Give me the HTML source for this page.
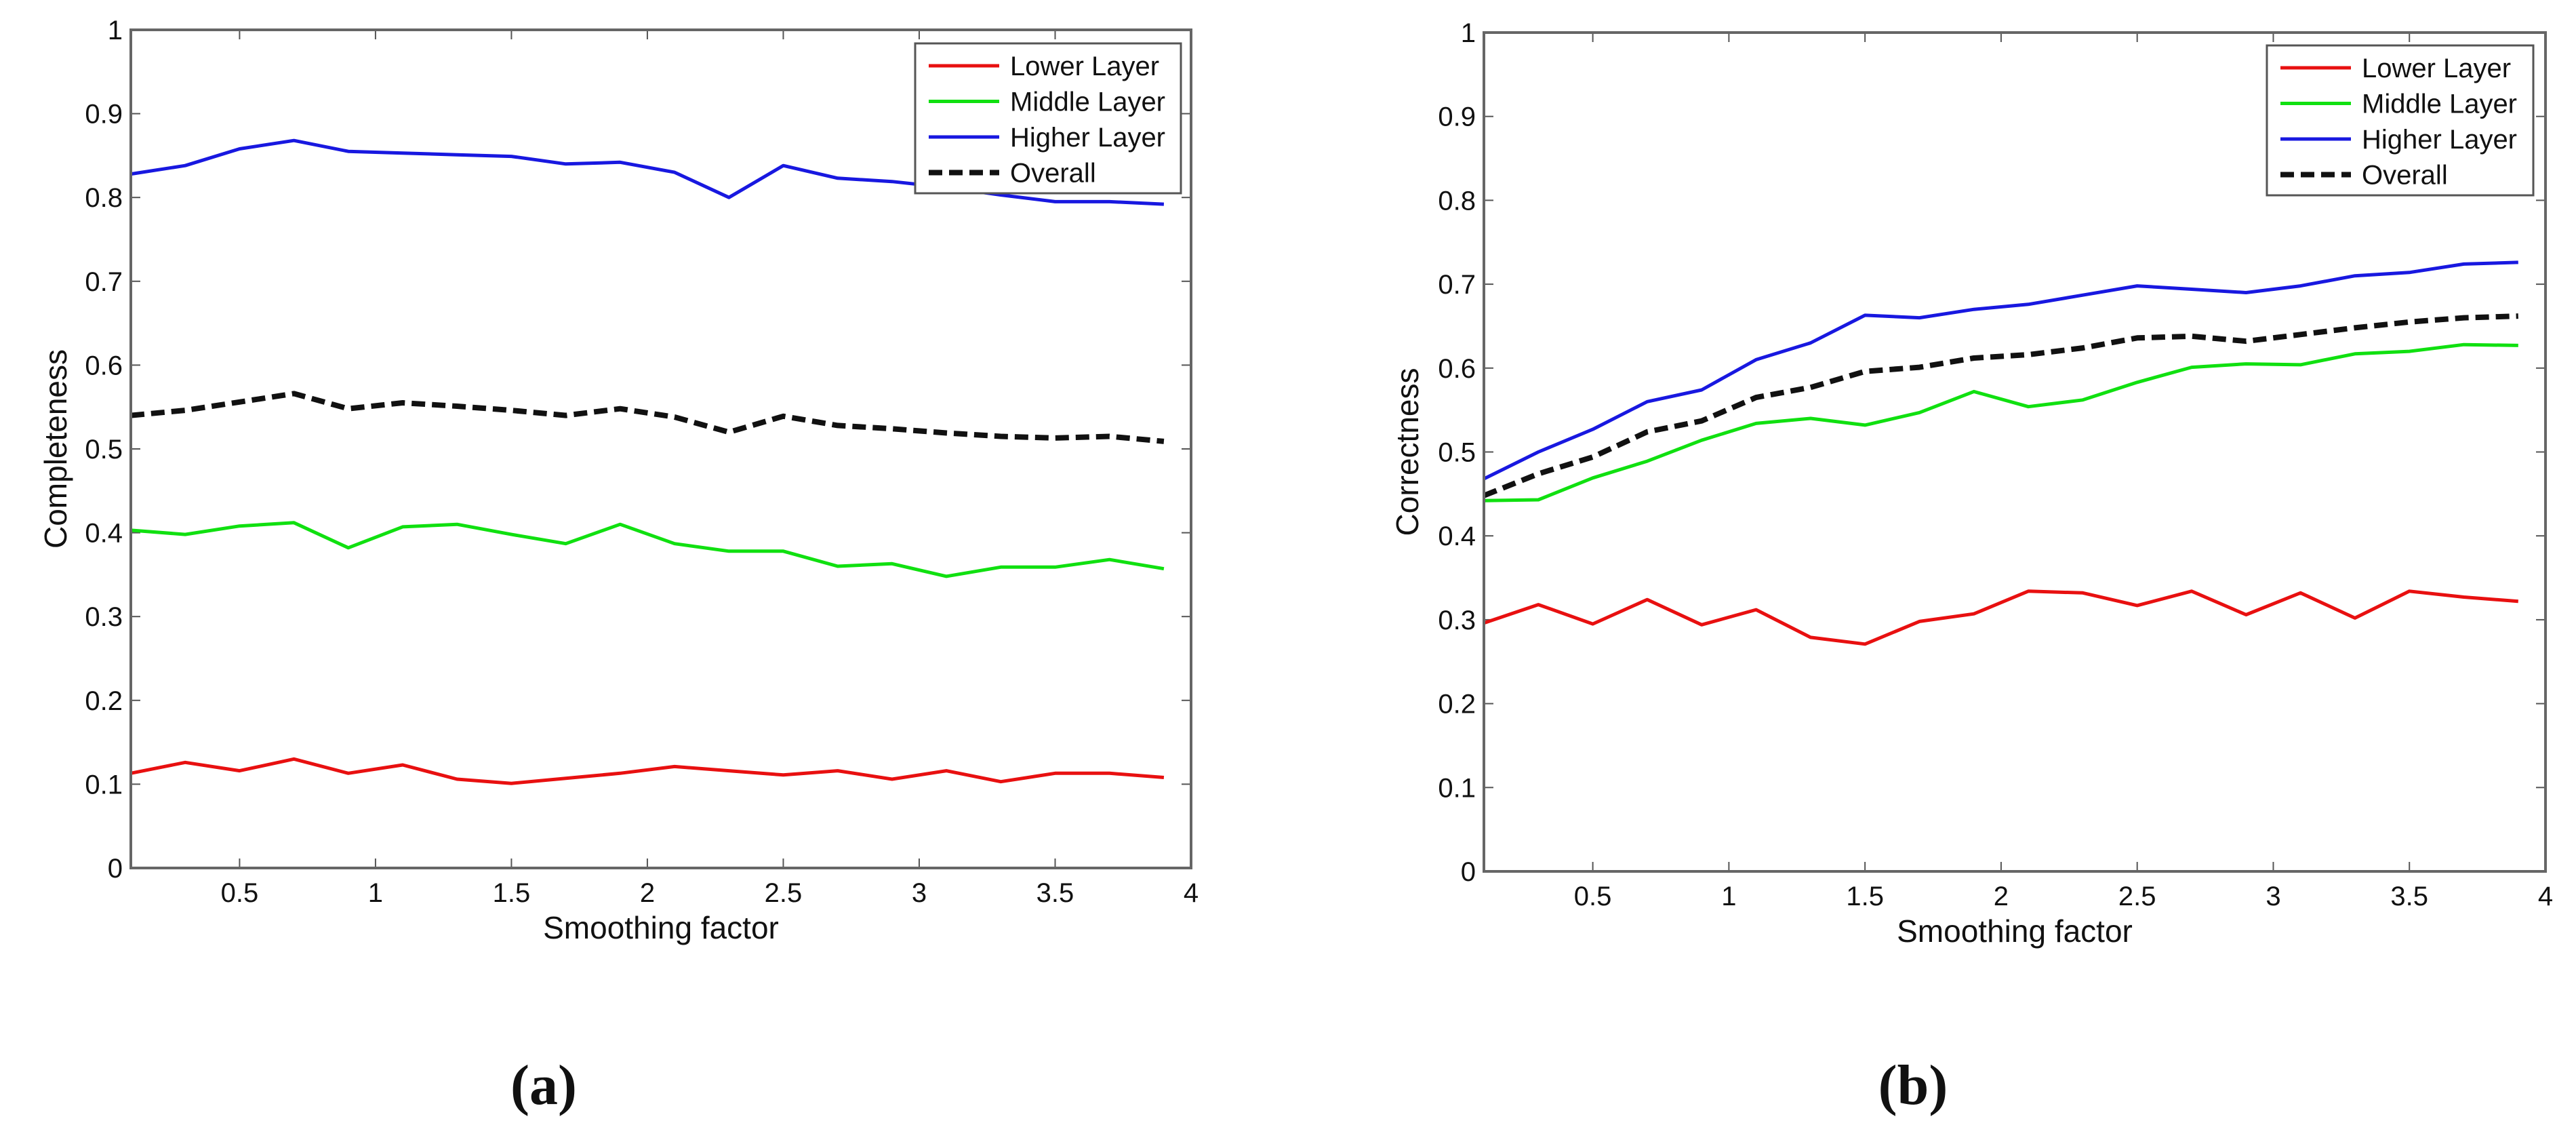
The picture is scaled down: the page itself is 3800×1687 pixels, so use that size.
<!DOCTYPE html>
<html><head><meta charset="utf-8"><style>
html,body{margin:0;padding:0;background:#fff;}
svg{display:block;}
text{font-family:"Liberation Sans",Arial,sans-serif;fill:#111;}
</style></head>
<body>
<svg id="fig" width="3800" height="1687" viewBox="0 0 3800 1687" xmlns="http://www.w3.org/2000/svg">
<text x="802" y="1628" font-size="84" font-weight="bold" text-anchor="middle" style="font-family:'Liberation Serif',serif">(<tspan>a</tspan>)</text>
<text x="2822" y="1628" font-size="84" font-weight="bold" text-anchor="middle" style="font-family:'Liberation Serif',serif">(b)</text>
</svg>
<script>
const xValues = [0.1,0.3,0.5,0.7,0.9,1.1,1.3,1.5,1.7,1.9,2.1,2.3,2.5,2.7,2.9,3.1,3.3,3.5,3.7,3.9];
const xTicks = [0.5,1,1.5,2,2.5,3,3.5,4];
const xTickLabels = ["0.5","1","1.5","2","2.5","3","3.5","4"];
const yTicks = [0,0.1,0.2,0.3,0.4,0.5,0.6,0.7,0.8,0.9,1];
const yTickLabels = ["0","0.1","0.2","0.3","0.4","0.5","0.6","0.7","0.8","0.9","1"];
const seriesNames = ["Lower Layer","Middle Layer","Higher Layer","Overall"];
const compLower = [0.113,0.126,0.116,0.130,0.113,0.123,0.106,0.101,0.107,0.113,0.121,0.116,0.111,0.116,0.106,0.116,0.103,0.113,0.113,0.108];
const compMiddle = [0.403,0.398,0.408,0.412,0.382,0.407,0.410,0.398,0.387,0.410,0.387,0.378,0.378,0.360,0.363,0.348,0.359,0.359,0.368,0.357];
const compHigher = [0.828,0.838,0.858,0.868,0.855,0.853,0.851,0.849,0.840,0.842,0.830,0.800,0.838,0.823,0.819,0.812,0.803,0.795,0.795,0.792];
const compOverall = [0.540,0.546,0.556,0.566,0.548,0.555,0.551,0.546,0.540,0.548,0.538,0.520,0.539,0.528,0.524,0.519,0.515,0.513,0.515,0.509];
const corrLower = [0.296,0.318,0.295,0.324,0.294,0.312,0.279,0.271,0.298,0.307,0.334,0.332,0.317,0.334,0.306,0.332,0.302,0.334,0.327,0.322];
const corrMiddle = [0.442,0.443,0.469,0.489,0.514,0.534,0.540,0.532,0.547,0.572,0.554,0.562,0.583,0.601,0.605,0.604,0.617,0.620,0.628,0.627];
const corrHigher = [0.468,0.500,0.527,0.560,0.574,0.610,0.630,0.663,0.660,0.670,0.676,0.687,0.698,0.694,0.690,0.698,0.710,0.714,0.724,0.726];
const corrOverall = [0.448,0.474,0.494,0.524,0.537,0.565,0.577,0.596,0.601,0.612,0.616,0.624,0.636,0.638,0.632,0.640,0.648,0.655,0.660,0.662];

const NS = "http://www.w3.org/2000/svg";
const svg = document.getElementById('fig');
const colors = ["#e81010","#10e010","#1818e0","#111"];
function mk(tag, attrs, parent){
  const e = document.createElementNS(NS, tag);
  for (const k in attrs) e.setAttribute(k, attrs[k]);
  (parent||svg).appendChild(e);
  return e;
}
function drawPanel(id, box, yLabel, ylabX, series, legend){
  const g = mk('g', {});
  
  
  const xs = v => box.l + (v - 0.1) / 3.9 * (box.r - box.l);
  const ys = v => box.b - v * (box.b - box.t);
  // ticks
  xTicks.forEach((t, i) => {
    const x = xs(t);
    mk('line', {x1:x, x2:x, y1:box.b, y2:box.b-14, stroke:'#555', 'stroke-width':2}, g);
    mk('line', {x1:x, x2:x, y1:box.t, y2:box.t+14, stroke:'#555', 'stroke-width':2}, g);
    const tx = mk('text', {x:x, y:box.b+50, 'font-size':40, 'text-anchor':'middle'}, g);
    tx.textContent = xTickLabels[i];
    
    
  });
  yTicks.forEach((t, i) => {
    const y = ys(t);
    mk('line', {x1:box.l, x2:box.l+14, y1:y, y2:y, stroke:'#555', 'stroke-width':2}, g);
    mk('line', {x1:box.r, x2:box.r-14, y1:y, y2:y, stroke:'#555', 'stroke-width':2}, g);
    const ty = mk('text', {x:box.l-12, y:y+14, 'font-size':40, 'text-anchor':'end'}, g);
    ty.textContent = yTickLabels[i];
    
    
  });
  // series
  series.forEach((s, k) => {
    const pts = s.map((v, i) => xs(xValues[i]).toFixed(1) + ',' + ys(v).toFixed(1)).join(' ');
    const pl = mk('polyline', {points:pts, fill:'none', stroke:colors[k], 'stroke-width': k===3?8:5, 'stroke-linejoin':'round', 'stroke-dasharray': k===3?'20 10':'none'}, g);
    
    
  });
  // axes box
  const ax = mk('rect', {x:box.l, y:box.t, width:box.r-box.l, height:box.b-box.t, fill:'none', stroke:'#666', 'stroke-width':4}, g);
  
  
  // labels
  const xl = mk('text', {x:(box.l+box.r)/2, y:box.b+104, 'font-size':46, 'text-anchor':'middle'}, g);
  xl.textContent = 'Smoothing factor';
  
  
  const yl = mk('text', {x:0, y:0, 'font-size':46, 'text-anchor':'middle', transform:'translate(' + ylabX + ',' + ((box.t+box.b)/2) + ') rotate(-90)'}, g);
  yl.textContent = yLabel;
  
  
  // legend
  const lg = mk('g', {}, g);
  
  
  mk('rect', {x:legend.x, y:legend.y, width:legend.w, height:legend.h, fill:'#fff', stroke:'#555', 'stroke-width':3}, lg);
  seriesNames.forEach((n, k) => {
    const y = legend.y + 33 + k*52.5;
    const ln = mk('line', {x1:legend.x+20, x2:legend.x+124, y1:y, y2:y, stroke:colors[k], 'stroke-width':k===3?8:5, 'stroke-dasharray':k===3?'20 10':'none'}, lg);
    
    
    const t = mk('text', {x:legend.x+140, y:y+14, 'font-size':40}, lg);
    t.textContent = n;
    
    
  });
}
drawPanel('completeness-chart', {l:193, r:1757, t:44, b:1280}, 'Completeness', 98,
  [compLower, compMiddle, compHigher, compOverall], {x:1350, y:64, w:392, h:221});
drawPanel('correctness-chart', {l:2189, r:3755, t:48, b:1285}, 'Correctness', 2092,
  [corrLower, corrMiddle, corrHigher, corrOverall], {x:3344, y:67, w:393, h:221});
</script>
</body></html>
